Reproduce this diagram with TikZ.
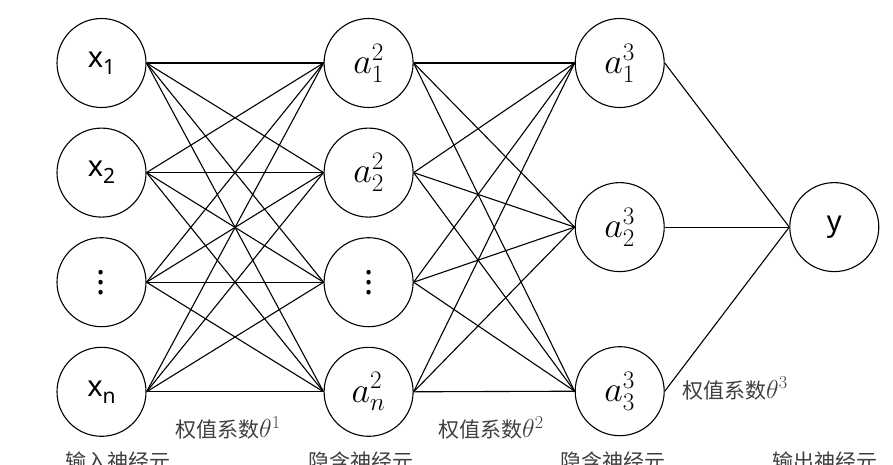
\RequirePackage{fix-cm}
\documentclass[tikz,border=0pt]{standalone}
\usepackage{fontspec}
\setmainfont{Noto Sans}
\newfontfamily\cjk{Noto Sans CJK SC}
\usepackage{tikz}
\usetikzlibrary{positioning}
\newcommand{\inx}[1]{x\raisebox{-7pt}{\fontsize{21}{24}\selectfont #1}}
\newcommand{\vdt}{\vbox{\fontsize{34}{34}\bfseries\baselineskip=10pt
  \lineskiplimit=-20pt \hbox{.}\hbox{.}\hbox{.}}}
\newcommand{\wth}[1]{{\fontsize{26}{28}\selectfont$\theta^{#1}$}}
\tikzset{
  neu/.style={circle, draw, line width=1.1pt, minimum size=89pt, inner sep=0pt,
              font=\fontsize{29}{32}\selectfont},
  hid/.style={neu, font=\fontsize{36}{40}\selectfont},
  syn/.style={line width=1.1pt},
  wt/.style={anchor=base west, inner sep=0pt, text=black!75,
             font=\fontsize{21}{24}\selectfont\cjk},
}
\begin{document}
\begin{tikzpicture}
\useasboundingbox (0,0) rectangle (893pt,-464pt);
% input layer
\node[neu] (x1) at (101.5pt,-63pt) {\inx{1}};
\node[neu, below=19.5pt of x1] (x2) {\inx{2}};
\node[neu, below=19.5pt of x2] (x3) {\vdt};
\node[neu, below=19.5pt of x3] (x4) {\inx{n}};
% first hidden layer
\node[hid, right=177pt of x1] (h1) {$a^2_1$};
\node[hid, right=177pt of x2] (h2) {$a^2_2$};
\node[hid, right=177pt of x3] (h3) {\vdt};
\node[hid, right=177pt of x4] (h4) {$a^2_n$};
% second hidden layer
\node[hid, right=161pt of h1] (g1) {$a^3_1$};
\node[hid, below=74pt of g1] (g2) {$a^3_2$};
\node[hid, below=74pt of g2] (g3) {$a^3_3$};
% output
\node[neu, right=124.5pt of g2] (out) {y};
\foreach \i in {1,...,4} {
  \foreach \j in {1,...,4} \draw[syn] (x\i.east) -- (h\j.west);
  \foreach \j in {1,2,3} \draw[syn] (h\i.east) -- (g\j.west);
}
\foreach \j in {1,2,3} \draw[syn] (g\j.east) -- (out.west);
% labels
\node[wt] (w1) at (175pt,-437.5pt) {权值系数\wth{1}};
\node[wt] (w2) at (438pt,-437.5pt) {权值系数\wth{2}};
\node[wt] (w3) at (682pt,-398pt) {权值系数\wth{3}};
\node[wt] (l1) at (65pt,-469pt) {输入神经元};
\node[wt] (l2) at (308pt,-469pt) {隐含神经元};
\node[wt] (l3) at (560pt,-469pt) {隐含神经元};
\node[wt] (l4) at (772pt,-469pt) {输出神经元};
\end{tikzpicture}
\end{document}
